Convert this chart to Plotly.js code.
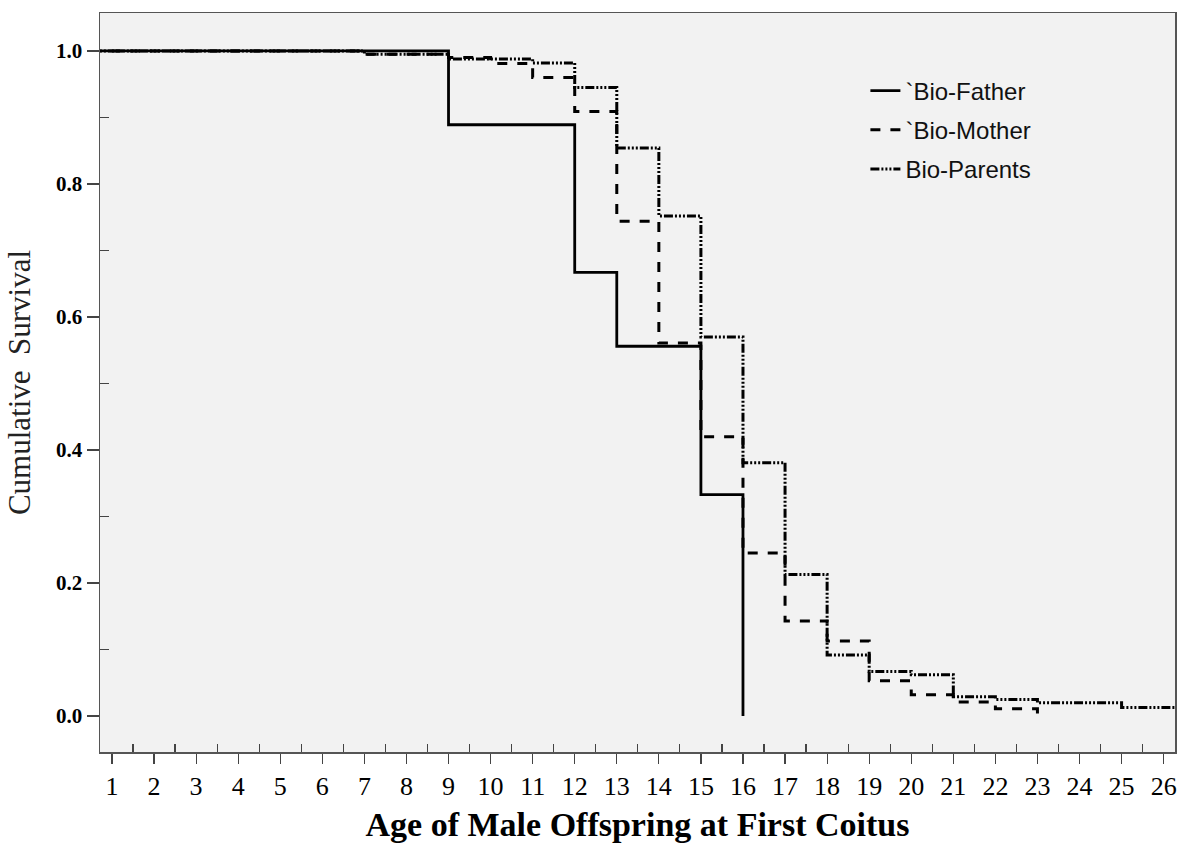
<!DOCTYPE html>
<html>
<head>
<meta charset="utf-8">
<script src="https://cdn.plot.ly/plotly-3.0.1.min.js"></script>
<style>html,body{margin:0;padding:0;background:#fff;}#chart{width:1185px;height:854px;}</style>
</head>
<body>
<div id="chart"></div>
<script>
// Step-change ages and survival values (Kaplan-Meier style)
const fatherAge = [0, 9, 12, 13, 15, 16];
const fatherSurv = [1.0, 0.889, 0.667, 0.556, 0.333, 0.0];

const motherAge = [0, 7, 9, 10, 11, 12, 13, 14, 15, 16, 17, 18, 19, 20, 21, 22, 23];
const motherSurv = [1.0, 0.995, 0.990, 0.981, 0.960, 0.909, 0.744, 0.561, 0.420, 0.245, 0.143, 0.113, 0.053, 0.032, 0.021, 0.011, 0.004];

const parentsAge = [0, 7, 9, 11, 12, 13, 14, 15, 16, 17, 18, 19, 20, 21, 22, 23, 25, 26.5];
const parentsSurv = [1.0, 0.995, 0.988, 0.982, 0.945, 0.854, 0.752, 0.570, 0.381, 0.213, 0.092, 0.067, 0.062, 0.029, 0.025, 0.020, 0.013, 0.013];

const seriesNames = ['`Bio-Father', '`Bio-Mother', 'Bio-Parents'];
const xTickVals = [1,2,3,4,5,6,7,8,9,10,11,12,13,14,15,16,17,18,19,20,21,22,23,24,25,26];
const yTickVals = [0.0, 0.2, 0.4, 0.6, 0.8, 1.0];
const yTickText = ['0.0', '0.2', '0.4', '0.6', '0.8', '1.0'];

const traces = [
  {x: fatherAge, y: fatherSurv, name: seriesNames[0], legendgroup: 'a', type: 'scatter', mode: 'lines',
   line: {shape: 'hv', color: '#000', width: 2.8, dash: 'solid'}},
  {x: motherAge, y: motherSurv, name: seriesNames[1], legendgroup: 'b', type: 'scatter', mode: 'lines',
   line: {shape: 'hv', color: '#000', width: 3, dash: '10px,10px'}},
  {x: parentsAge, y: parentsSurv, name: seriesNames[2], legendgroup: 'c', type: 'scatter', mode: 'lines',
   line: {shape: 'hv', color: '#000', width: 3, dash: '9px,2px,2px,2px,2px,2px,2px,2px'}}
];

const layout = {
  width: 1185, height: 854,
  margin: {l: 100, r: 10, t: 13, b: 102},
  paper_bgcolor: '#ffffff',
  plot_bgcolor: '#f2f2f2',
  showlegend: true,
  legend: {
    x: 0.712, y: 0.925, xanchor: 'left', yanchor: 'top',
    bgcolor: 'rgba(0,0,0,0)',
    font: {family: 'Liberation Sans, Arial, sans-serif', size: 24, color: '#111'},
    tracegroupgap: 5
  },
  xaxis: {
    range: [0.715, 26.27],
    tickmode: 'array', tickvals: xTickVals,
    ticks: 'outside', ticklen: 10, tickwidth: 1.2, tickcolor: '#444',
    minor: {ticks: 'inside', tick0: 0.5, dtick: 1, ticklen: 8, tickwidth: 1.2, tickcolor: '#444', showgrid: false},
    showgrid: false, zeroline: false,
    showline: true, linecolor: '#555', linewidth: 1.5, mirror: true,
    tickfont: {family: 'Liberation Serif, Times New Roman, serif', size: 26, color: '#000'},
    title: {text: 'Age of Male Offspring at First Coitus', standoff: 12,
      font: {family: 'Liberation Serif, Times New Roman, serif', size: 34, color: '#000', weight: 'bold'}}
  },
  yaxis: {
    range: [-0.054, 1.057],
    tickmode: 'array', tickvals: yTickVals, ticktext: yTickText,
    ticks: 'outside', ticklen: 12, tickwidth: 1.2, tickcolor: '#444',
    minor: {ticks: 'inside', tick0: 0.1, dtick: 0.2, ticklen: 9, tickwidth: 1.2, tickcolor: '#444', showgrid: false},
    showgrid: false, zeroline: false,
    showline: true, linecolor: '#555', linewidth: 1.5, mirror: true,
    tickfont: {family: 'Liberation Serif, Times New Roman, serif', size: 21, color: '#000', weight: 'bold'},
    title: {text: 'Cumulative  Survival', standoff: 16,
      font: {family: 'Liberation Serif, Times New Roman, serif', size: 31, color: '#222'}}
  }
};

Plotly.newPlot('chart', traces, layout, {displayModeBar: false, staticPlot: true});
</script>
</body>
</html>
